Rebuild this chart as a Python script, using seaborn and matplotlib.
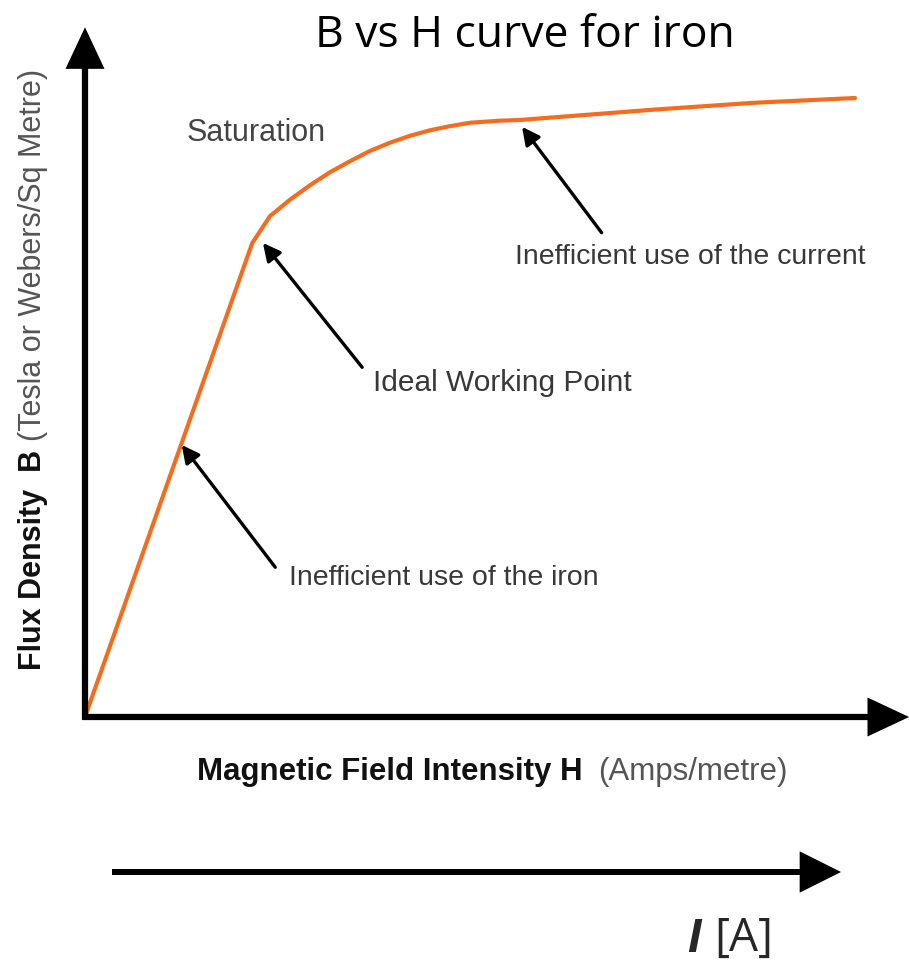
import matplotlib
matplotlib.use("Agg")
import matplotlib.pyplot as plt
import seaborn as sns
import pandas as pd

sns.set_theme(style="white")
plt.rcParams["font.family"] = ["Liberation Sans", "DejaVu Sans"]

# B-H curve (normalised units: H 0..100, B 0..100)
H_values = [0.0, 20.4, 22.56, 25.0, 27.44, 29.88, 32.32, 34.76, 37.2, 39.63, 42.07,
            44.5, 46.95, 50.6, 53.0, 69.3, 81.5, 93.9]
B_values = [0.0, 69.0, 72.9, 75.3, 77.4, 79.3, 80.9, 82.4, 83.6, 84.6, 85.4,
            86.0, 86.5, 86.8, 86.9, 88.4, 89.4, 90.1]

# annotations: label, text anchor (H, B), arrow head (H, B), arrow tail (H, B)
ann_labels = ["Ideal Working Point", "Inefficient use of the current", "Inefficient use of the iron"]
ann_text_pos = [(35.1, 48.6), (52.4, 67.0), (24.9, 20.2)]
ann_heads = [(21.7, 69.0), (53.3, 85.9), (11.8, 39.6)]
ann_tails = [(33.8, 50.9), (63.0, 70.5), (23.2, 21.8)]
ann_sizes = [21.5, 20.5, 20.5]

title = "B vs H curve for iron"
xlabel_bold = "Magnetic Field Intensity H"
xlabel_rest = "(Amps/metre)"
ylabel_bold = "Flux Density  B"
ylabel_rest = "(Tesla or Webers/Sq Metre)"

W, Hpx = 909, 966
fig = plt.figure(figsize=(W / 100, Hpx / 100), dpi=100)
fig.patch.set_facecolor("white")

def fx(x):
    return x / W

def fy(y):
    return 1 - y / Hpx

ax = fig.add_axes([fx(85), fy(717), 820 / W, 687 / Hpx])
ax.set_xlim(0, 100)
ax.set_ylim(0, 100)
ax.axis("off")

df = pd.DataFrame({"H": H_values, "B": B_values})
sns.lineplot(data=df, x="H", y="B", sort=False, estimator=None, ax=ax,
             color="#f26d1f", lw=3.0, solid_capstyle="round", solid_joinstyle="round",
             zorder=3)

# axes with arrows
axis_kw = dict(arrowstyle="-|>,head_length=1.6,head_width=0.75", color="black",
               lw=4.5, shrinkA=0, shrinkB=0, mutation_scale=14, joinstyle="miter",
               capstyle="butt")
ax.annotate("", xy=(100.5, 0), xytext=(-0.3, 0), xycoords="data",
            arrowprops=axis_kw, annotation_clip=False)
ax.annotate("", xy=(0, 100.4), xytext=(0, -0.4), xycoords="data",
            arrowprops=axis_kw, annotation_clip=False)

# annotation arrows and texts
for lab, tp, hd, tl, sz in zip(ann_labels, ann_text_pos, ann_heads, ann_tails, ann_sizes):
    ax.annotate("", xy=hd, xytext=tl,
                arrowprops=dict(arrowstyle="-|>,head_length=0.75,head_width=0.38",
                                color="black", lw=2.4, shrinkA=0, shrinkB=0,
                                mutation_scale=14))
    ax.text(tp[0], tp[1], lab, fontsize=sz, color="#383838", ha="left", va="center")

ax.text((187 - 85) / 8.2, (717 - 133) / 6.87, "Saturation", fontsize=22,
        color="#444444", ha="left", va="center")

# title
fig.text(fx(525), fy(36), title, fontsize=32, family=["Open Sans", "DejaVu Sans"],
         ha="center", va="center", color="black")

# x label
fig.text(fx(197), fy(772), xlabel_bold, fontsize=22.5, fontweight="bold",
         color="#111111", ha="left", va="center")
fig.text(fx(598), fy(772), xlabel_rest, fontsize=22.5, color="#555555",
         ha="left", va="center")

# y label
fig.text(fx(33), fy(670), ylabel_bold, fontsize=22, fontweight="bold",
         color="#111111", ha="center", va="bottom", rotation=90)
fig.text(fx(33), fy(441), ylabel_rest, fontsize=22, color="#555555",
         ha="center", va="bottom", rotation=90)

# current arrow at the bottom
ax.annotate("", xy=(841, Hpx - 872), xytext=(112, Hpx - 872), xycoords="figure pixels",
            arrowprops=dict(arrowstyle="-|>,head_length=1.9,head_width=0.95", color="black",
                            lw=4.3, shrinkA=0, shrinkB=0, mutation_scale=12,
                            joinstyle="miter", capstyle="butt"),
            annotation_clip=False)

fig.text(fx(701), fy(939), "I", fontsize=35, fontweight="bold", fontstyle="italic",
         family=["Liberation Sans", "DejaVu Sans"], ha="right", va="center")
fig.text(fx(714), fy(939), "[A]", fontsize=33, family=["Open Sans", "DejaVu Sans"],
         ha="left", va="center")

fig.savefig("out.png", dpi=100, facecolor="white")
